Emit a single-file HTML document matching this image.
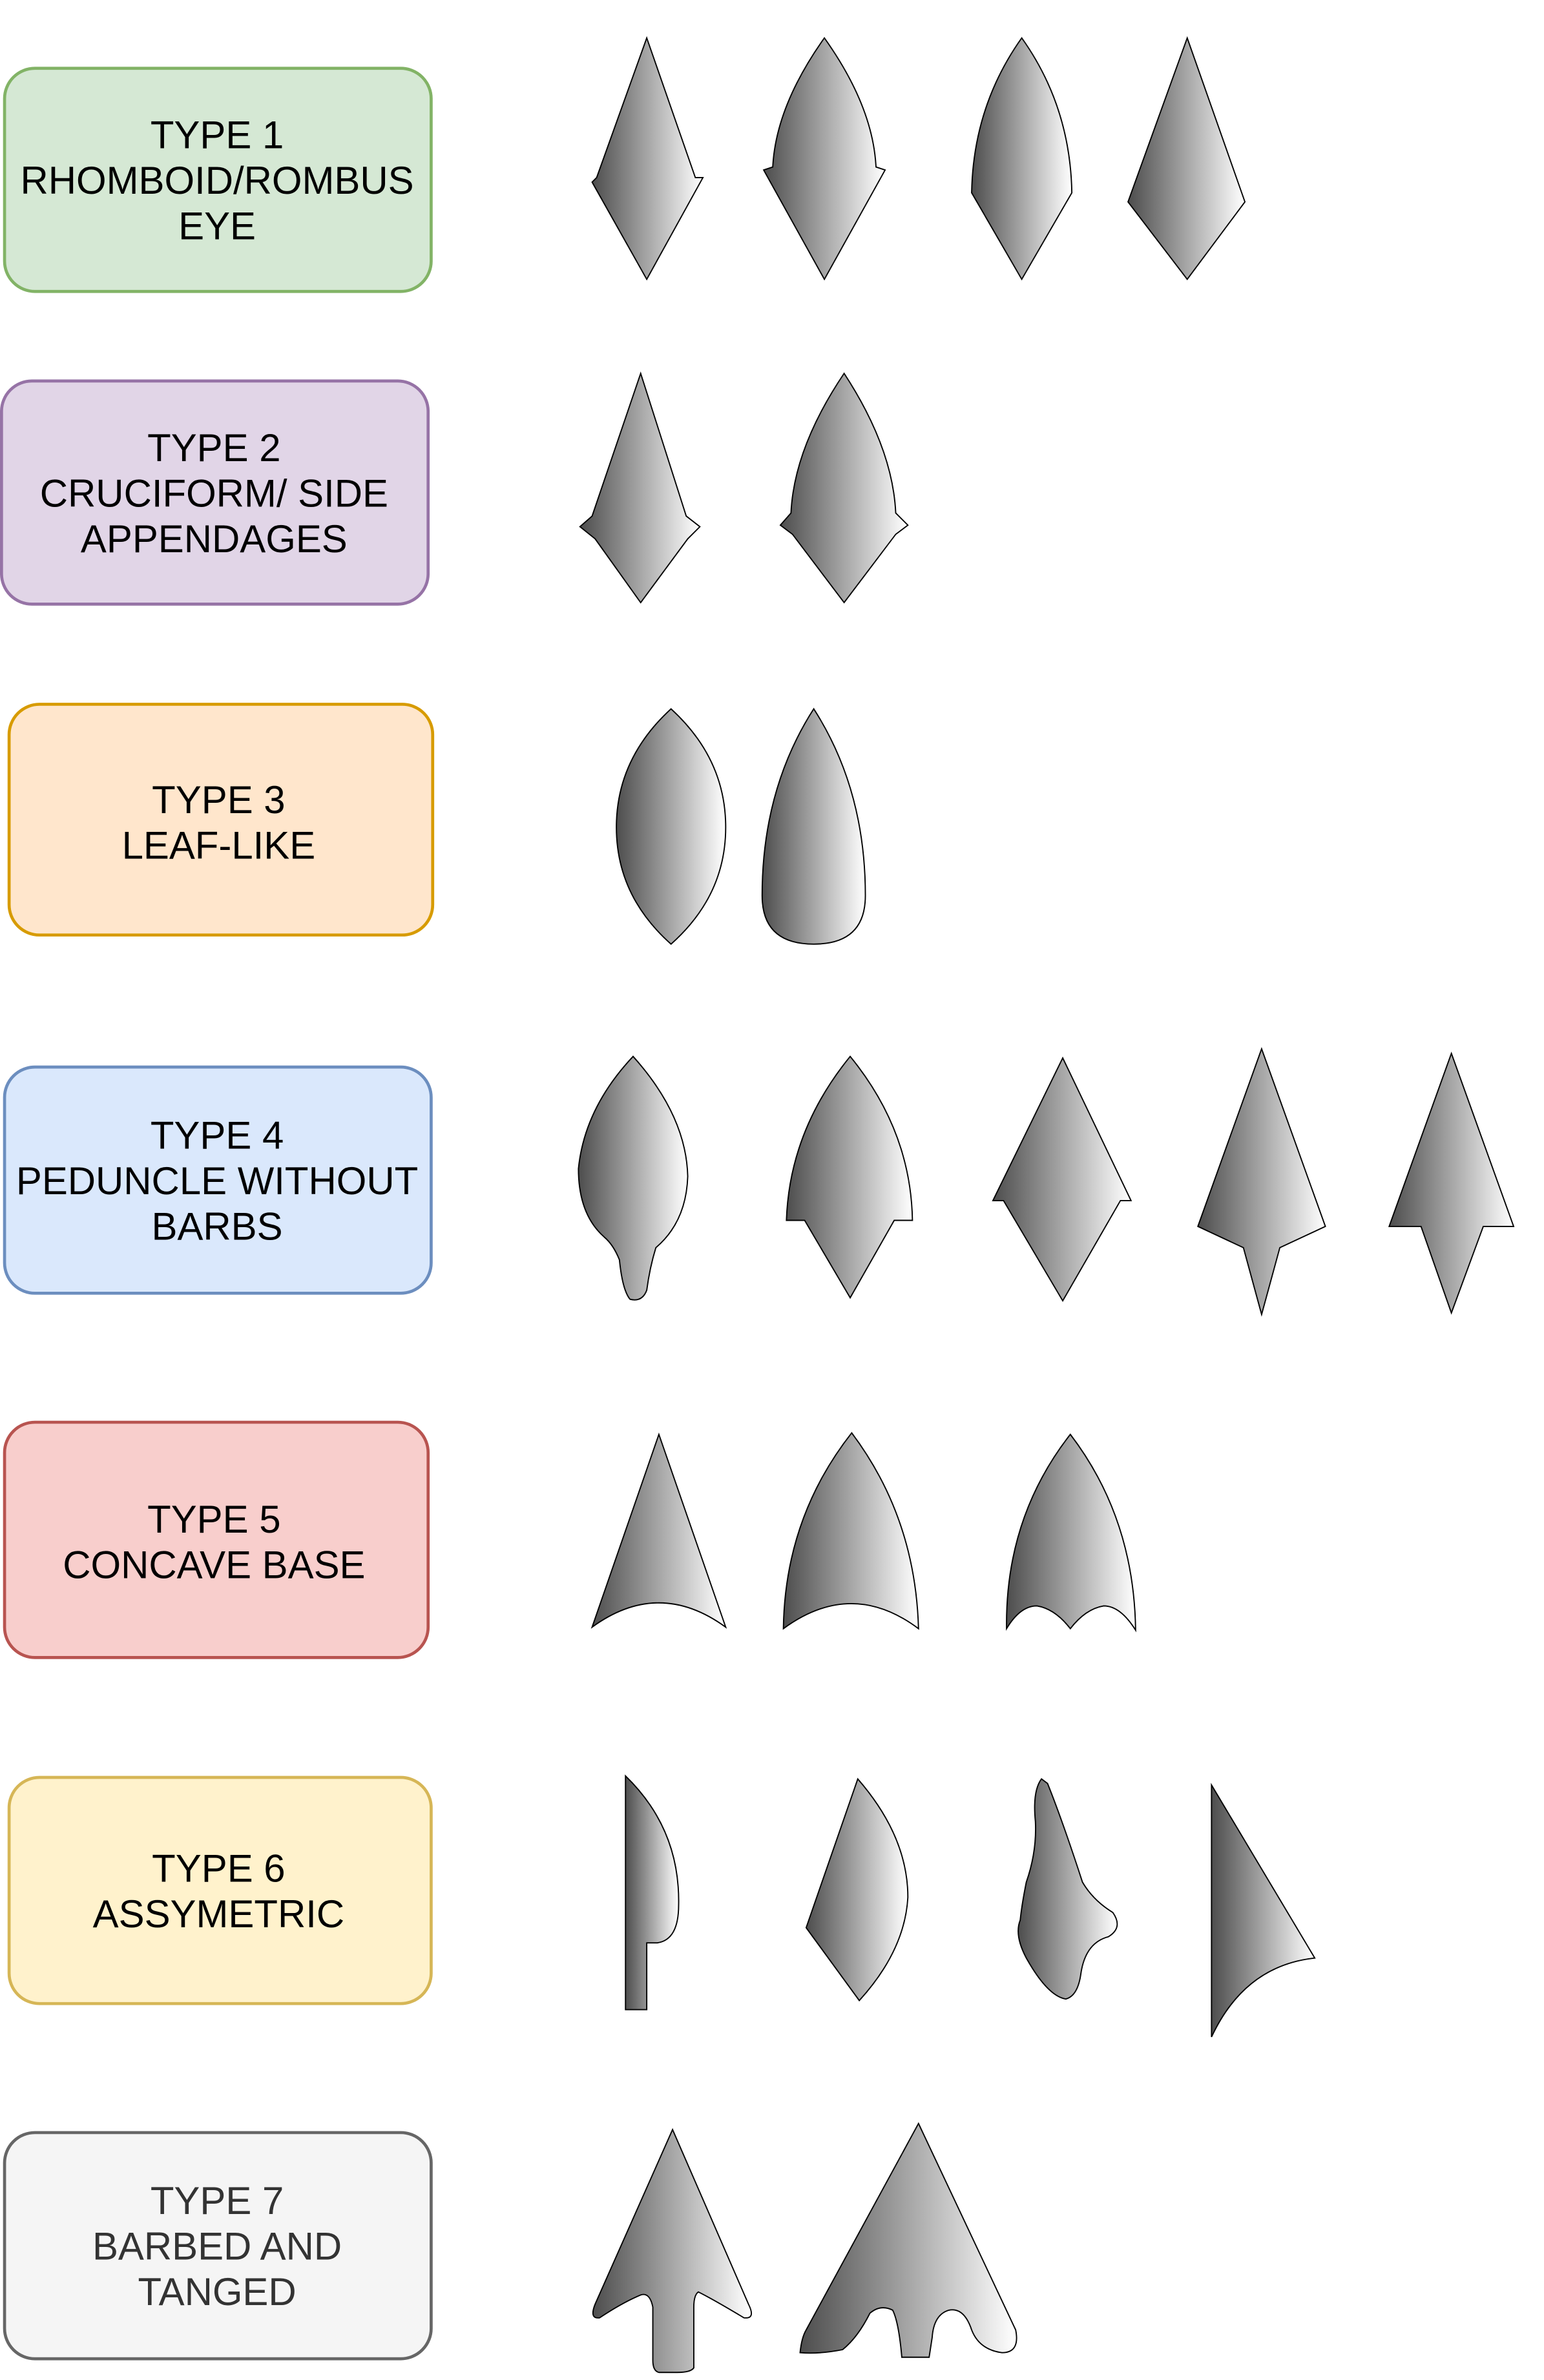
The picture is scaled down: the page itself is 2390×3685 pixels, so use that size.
<!DOCTYPE html>
<html><head><meta charset="utf-8"><style>html,body{margin:0;padding:0;background:#fff}svg{display:block}</style></head>
<body>
<svg width="2390" height="3685" viewBox="0 0 1017 1568" preserveAspectRatio="none" xmlns="http://www.w3.org/2000/svg">
<defs>
<linearGradient id="g" x1="0" y1="0" x2="1" y2="0">
<stop offset="0" stop-color="#4d4d4d"/><stop offset="1" stop-color="#ffffff"/>
</linearGradient>
</defs>
<g stroke-width="2">
<rect x="3" y="45" width="281" height="147" rx="20" fill="#d5e8d4" stroke="#82b366"/>
<rect x="1" y="251" width="281" height="147" rx="20" fill="#e1d5e7" stroke="#9673a6"/>
<rect x="6" y="464" width="279" height="152" rx="20" fill="#ffe6cc" stroke="#d79b00"/>
<rect x="3" y="703" width="281" height="149" rx="20" fill="#dae8fc" stroke="#6c8ebf"/>
<rect x="3" y="937" width="279" height="155" rx="20" fill="#f8cecc" stroke="#b85450"/>
<rect x="6" y="1171" width="278" height="149" rx="20" fill="#fff2cc" stroke="#d6b656"/>
<rect x="3" y="1405" width="281" height="149" rx="20" fill="#f5f5f5" stroke="#666666"/>
</g>
<g font-family="Liberation Sans, sans-serif" font-size="25.5" text-anchor="middle" dominant-baseline="central" fill="#000">
<text x="143" y="89">TYPE 1</text><text x="143" y="119">RHOMBOID/ROMBUS</text><text x="143" y="149">EYE</text>
<text x="141" y="295">TYPE 2</text><text x="141" y="325">CRUCIFORM/ SIDE</text><text x="141" y="355">APPENDAGES</text>
<text x="144" y="527">TYPE 3</text><text x="144" y="557">LEAF-LIKE</text>
<text x="143" y="748">TYPE 4</text><text x="143" y="778">PEDUNCLE WITHOUT</text><text x="143" y="808">BARBS</text>
<text x="141" y="1001">TYPE 5</text><text x="141" y="1031">CONCAVE BASE</text>
<text x="144" y="1231">TYPE 6</text><text x="144" y="1261">ASSYMETRIC</text>
<g fill="#333"><text x="143" y="1450">TYPE 7</text><text x="143" y="1480">BARBED AND</text><text x="143" y="1510">TANGED</text></g>
</g>
<g fill="url(#g)" stroke="#000" stroke-width="0.8">
<path d="M426,25 L458,117 L463,117 L426,184 L390,120 L393,117 Z"/>
<path d="M543,25 Q575,70 577,110 L583,112 L543,184 L503,112 L509,110 Q511,70 543,25 Z"/>
<path d="M673,25 Q705,70 706,127 L673,184 L640,127 Q641,70 673,25 Z"/>
<path d="M782,25 L820,133 L782,184 L743,133 Z"/>
<path d="M422,246 L452,340 L461,347 L453,355 L422,397 L392,355 L382,347 L390,340 Z"/>
<path d="M556,246 Q588,295 590,338 L598,346 L590,352 L556,397 L522,352 L514,346 L521,338 Q523,295 556,246 Z"/>
<path d="M442,467 Q478,500 478,545 Q478,590 442,622 Q406,590 406,545 Q406,500 442,467 Z"/>
<path d="M536,467 Q570,520 570,590 Q570,622 536,622 Q502,622 502,590 Q502,520 536,467 Z"/>
<path d="M417,696 Q452,735 453,775 Q452,805 432,822 Q428,835 426,850 Q423,858 415,856 Q410,850 408,830 Q404,820 398,815 Q381,800 381,770 Q385,730 417,696 Z"/>
<path d="M560,696 Q600,745 601,804 L589,804 L560,855 L530,804 L518,804 Q520,745 560,696 Z"/>
<path d="M700,697 L745,791 L738,791 L700,857 L661,791 L654,791 Z"/>
<path d="M831,691 L873,808 L843,822 L831,866 L819,822 L789,808 Z"/>
<path d="M956,694 L997,808 L977,808 L956,865 L936,808 L915,808 Z"/>
<path d="M434,945 L478,1072 Q434,1040 390,1072 Z"/>
<path d="M561,944 Q603,1000 605,1073 Q561,1040 516,1073 Q517,1000 561,944 Z"/>
<path d="M705,945 Q747,1000 748,1074 Q738,1058 727,1058 Q715,1060 705,1073 Q695,1060 683,1058 Q672,1058 663,1073 Q662,1000 705,945 Z"/>
<path d="M412,1170 Q448,1205 447,1255 Q447,1278 433,1280 L426,1280 L426,1324 L412,1324 Z"/>
<path d="M565,1172 Q598,1210 598,1250 Q596,1285 566,1318 L531,1270 Z"/>
<path d="M686,1172 Q680,1180 682,1200 Q683,1220 676,1240 Q673,1255 672,1265 Q668,1275 676,1290 Q690,1315 702,1317 Q710,1315 712,1300 Q715,1280 730,1276 Q740,1270 733,1260 Q720,1252 713,1240 Q700,1200 690,1175 Z"/>
<path d="M798,1176 L866,1290 Q820,1295 798,1342 Z"/>
<path d="M443,1403 L493,1518 Q498,1528 490,1527 Q470,1515 460,1510 Q457,1512 457,1520 L457,1560 Q455,1563 446,1563 L434,1563 Q430,1562 430,1555 L430,1520 Q428,1510 422,1512 Q410,1517 395,1527 Q388,1528 392,1518 Z"/>
<path d="M605,1399 L669,1535 Q672,1550 660,1550 Q645,1548 640,1535 Q635,1520 625,1522 Q615,1525 614,1540 L612,1553 L594,1553 Q592,1530 588,1522 Q580,1518 573,1524 Q565,1540 555,1548 Q540,1551 527,1550 Q528,1540 531,1535 Z"/>
</g>
</svg>
</body></html>
